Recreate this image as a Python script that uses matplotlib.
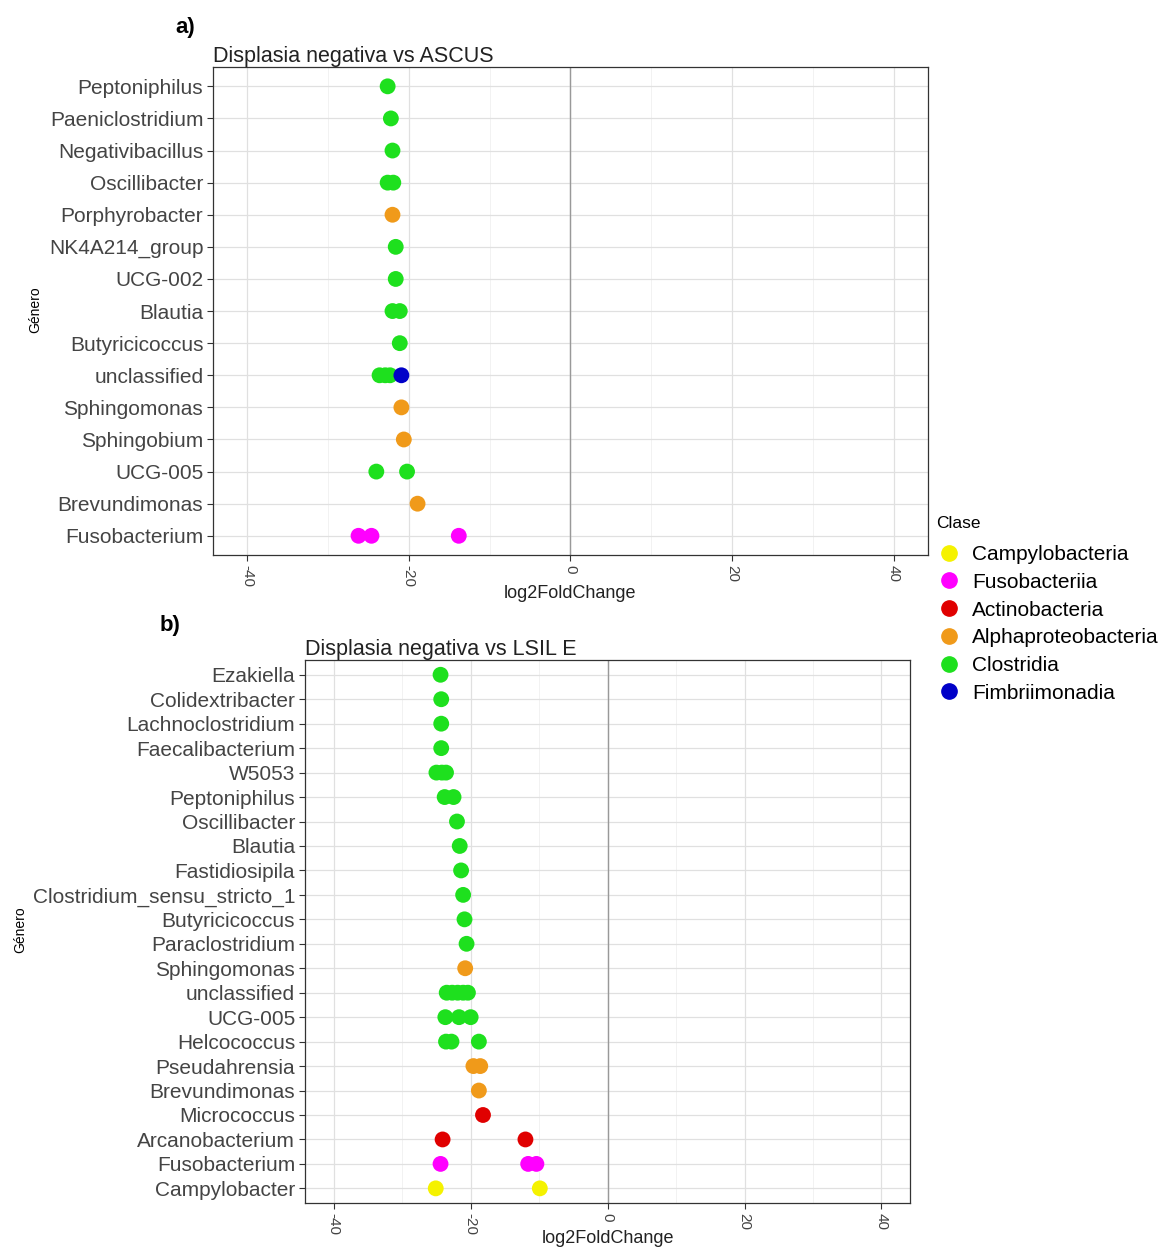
import matplotlib
matplotlib.use('Agg')
import matplotlib.pyplot as plt
from matplotlib.lines import Line2D

plt.rcParams['font.family'] = ['Liberation Sans', 'DejaVu Sans']

# class colours (legend order)
clases = ['Campylobacteria', 'Fusobacteriia', 'Actinobacteria',
          'Alphaproteobacteria', 'Clostridia', 'Fimbriimonadia']
colores = ['#F5F200', '#FF00FF', '#E00000', '#F09A1A', '#1EE01E', '#0000C8']

# panel a) Displasia negativa vs ASCUS -- genera top to bottom
a_generos = ['Peptoniphilus', 'Paeniclostridium', 'Negativibacillus', 'Oscillibacter',
             'Porphyrobacter', 'NK4A214_group', 'UCG-002', 'Blautia', 'Butyricicoccus',
             'unclassified', 'Sphingomonas', 'Sphingobium', 'UCG-005', 'Brevundimonas',
             'Fusobacterium']
a_genero = ['Peptoniphilus', 'Paeniclostridium', 'Negativibacillus', 'Oscillibacter',
            'Oscillibacter', 'Porphyrobacter', 'NK4A214_group', 'UCG-002', 'Blautia',
            'Blautia', 'Butyricicoccus', 'unclassified', 'unclassified', 'unclassified',
            'unclassified', 'Sphingomonas', 'Sphingobium', 'UCG-005', 'UCG-005',
            'Brevundimonas', 'Fusobacterium', 'Fusobacterium', 'Fusobacterium']
a_lfc = [-22.6, -22.2, -22.0, -22.6, -21.9, -22.0, -21.6, -21.6, -22.0, -21.1, -21.1,
         -23.6, -22.9, -22.3, -20.9, -20.9, -20.6, -24.0, -20.2, -18.9, -26.2, -24.6, -13.8]
a_clase = ['Clostridia', 'Clostridia', 'Clostridia', 'Clostridia', 'Clostridia',
           'Alphaproteobacteria', 'Clostridia', 'Clostridia', 'Clostridia', 'Clostridia',
           'Clostridia', 'Clostridia', 'Clostridia', 'Clostridia', 'Fimbriimonadia',
           'Alphaproteobacteria', 'Alphaproteobacteria', 'Clostridia', 'Clostridia',
           'Alphaproteobacteria', 'Fusobacteriia', 'Fusobacteriia', 'Fusobacteriia']

# panel b) Displasia negativa vs LSIL E
b_generos = ['Ezakiella', 'Colidextribacter', 'Lachnoclostridium', 'Faecalibacterium',
             'W5053', 'Peptoniphilus', 'Oscillibacter', 'Blautia', 'Fastidiosipila',
             'Clostridium_sensu_stricto_1', 'Butyricicoccus', 'Paraclostridium',
             'Sphingomonas', 'unclassified', 'UCG-005', 'Helcococcus', 'Pseudahrensia',
             'Brevundimonas', 'Micrococcus', 'Arcanobacterium', 'Fusobacterium',
             'Campylobacter']
b_genero = ['Ezakiella', 'Colidextribacter', 'Lachnoclostridium', 'Faecalibacterium',
            'W5053', 'W5053', 'W5053', 'Peptoniphilus', 'Peptoniphilus', 'Oscillibacter',
            'Blautia', 'Fastidiosipila', 'Clostridium_sensu_stricto_1', 'Butyricicoccus',
            'Paraclostridium', 'Sphingomonas', 'unclassified', 'unclassified',
            'unclassified', 'unclassified', 'unclassified', 'UCG-005', 'UCG-005',
            'UCG-005', 'Helcococcus', 'Helcococcus', 'Helcococcus', 'Pseudahrensia',
            'Pseudahrensia', 'Brevundimonas', 'Micrococcus', 'Arcanobacterium',
            'Arcanobacterium', 'Fusobacterium', 'Fusobacterium', 'Fusobacterium',
            'Campylobacter', 'Campylobacter']
b_lfc = [-24.4, -24.3, -24.3, -24.3, -25.0, -24.2, -23.6, -23.8, -22.5, -22.0, -21.6,
         -21.4, -21.1, -20.9, -20.6, -20.8, -23.5, -22.7, -21.9, -21.1, -20.4, -23.7,
         -21.7, -20.0, -23.6, -22.8, -18.8, -19.6, -18.6, -18.8, -18.2, -24.1, -12.0,
         -24.4, -11.6, -10.4, -25.1, -9.9]
b_clase = ['Clostridia'] * 15 + ['Alphaproteobacteria'] + ['Clostridia'] * 11 + \
          ['Alphaproteobacteria'] * 3 + ['Actinobacteria'] * 3 + ['Fusobacteriia'] * 3 + \
          ['Campylobacteria'] * 2

xticks = [-40, -20, 0, 20, 40]
xminor = [-30, -10, 10, 30]

col = dict(zip(clases, colores))


def panel(ax, generos, genero, lfc, clase, titulo, xlab_y):
    n = len(generos)
    ypos = {g: n - 1 - i for i, g in enumerate(generos)}
    ax.set_axisbelow(True)
    ax.grid(True, which='major', color='#e0e0e0', lw=0.9)
    ax.grid(True, which='minor', axis='x', color='#f0f0f0', lw=0.6)
    ax.axvline(0, color='#999999', lw=1.0, zorder=1)
    # blue drawn last so it sits on top of green
    order = sorted(range(len(lfc)), key=lambda k: clase[k] == 'Fimbriimonadia')
    ax.scatter([lfc[k] for k in order], [ypos[genero[k]] for k in order],
               c=[col[clase[k]] for k in order], s=130, lw=0, zorder=3)
    ax.set_xlim(-44.2, 44.2)
    ax.set_ylim(-0.6, n - 0.4)
    ax.set_yticks(range(n))
    ax.set_yticklabels(generos[::-1], fontsize=15, color='#444444')
    ax.set_xticks(xticks)
    ax.set_xticks(xminor, minor=True)
    ax.set_xticklabels([str(t) for t in xticks], rotation=270, fontsize=11, color='#444444')
    ax.tick_params(which='minor', length=0)
    ax.tick_params(which='major', length=4, color='#333333', pad=3)
    for s in ax.spines.values():
        s.set_color('#333333'); s.set_linewidth(0.9)
    ax.set_title(titulo, fontsize=15.5, loc='left', pad=4, x=0.0, color='#222222')
    ax.set_xlabel('log2FoldChange', fontsize=13, color='#222222', va='center')
    ax.xaxis.set_label_coords(0.5, xlab_y)


fig = plt.figure(figsize=(11.64, 12.49), dpi=100)
ax1 = fig.add_axes([0.183, 0.5556, 0.614, 0.3907])
ax2 = fig.add_axes([0.262, 0.0368, 0.520, 0.4347])
panel(ax1, a_generos, a_genero, a_lfc, a_clase, 'Displasia negativa vs ASCUS', -0.078)
panel(ax2, b_generos, b_genero, b_lfc, b_clase, 'Displasia negativa vs LSIL E', -0.066)

fig.text(35 / 1164, 1 - 310 / 1249, 'Género', rotation=90, fontsize=10, ha='center', va='center')
fig.text(20 / 1164, 1 - 930 / 1249, 'Género', rotation=90, fontsize=10, ha='center', va='center')
fig.text(175 / 1164, 1 - 28 / 1249, 'a)', fontsize=16, fontweight='bold', ha='left', va='center')
fig.text(160 / 1164, 1 - 625 / 1249, 'b)', fontsize=16, fontweight='bold', ha='left', va='center')

# legend: title as separate text to match its gap above the entries
fig.text(936 / 1164, 1 - 523 / 1249, 'Clase', fontsize=12.5, ha='left', va='center')
handles = [Line2D([], [], marker='o', ls='', color=c, markersize=11) for c in colores]
fig.legend(handles, clases, loc='upper left', bbox_to_anchor=(939 / 1164, 1 - 545 / 1249),
           frameon=False, fontsize=15, handletextpad=0.6, labelspacing=0.42,
           handlelength=1.0, borderaxespad=0, borderpad=0)

fig.savefig('out.png', dpi=100)
